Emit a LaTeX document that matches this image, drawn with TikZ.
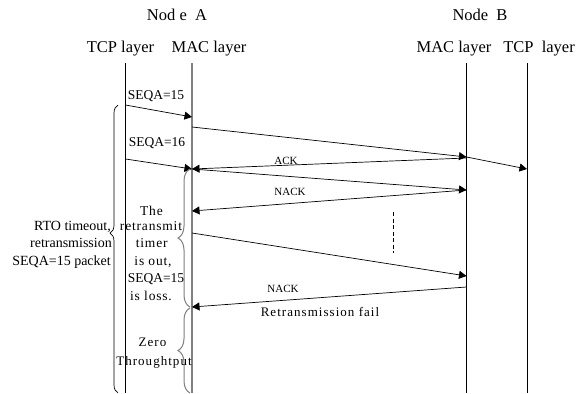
\documentclass[tikz,border=0pt]{standalone}
\usepackage{fontspec}
\setmainfont{Liberation Serif}
\usetikzlibrary{arrows.meta,decorations.pathreplacing}
\begin{document}
\begin{tikzpicture}[x=1pt,y=-1pt,
  lane/.style={line width=0.8pt},
  macA/.style={line width=1.5pt,draw=black!50},
  msg/.style={line width=0.7pt,-{Triangle[length=7.5pt,width=8pt]}},
  head/.style={font=\fontsize{16.5}{18}\selectfont, anchor=base, inner sep=0pt},
  lbl/.style={font=\fontsize{13.5}{16}\selectfont, anchor=base, inner sep=0pt},
  sp/.style={font=\fontsize{13.5}{16}\selectfont\addfontfeature{LetterSpace=6}, anchor=base, inner sep=0pt},
  wide/.style={font=\fontsize{13}{15}\selectfont\addfontfeature{LetterSpace=8}, anchor=base, inner sep=0pt},
  rto/.style={font=\fontsize{14}{16}\selectfont, anchor=base east, inner sep=0pt},
  small/.style={font=\fontsize{11}{13}\selectfont, anchor=base, inner sep=0pt},
  brc/.style n args={2}{decorate, decoration={brace, amplitude=#1, aspect=#2}, line width=0.7pt},
  gbrc/.style n args={2}{brc={#1}{#2}, draw=black!50, line width=1pt}
]
\useasboundingbox (0,0) rectangle (587,394);
\fill[white] (0,0) rectangle (587,394);

% headings
\node[head] (nA) at (177,20) {Nod e\ \ A};
\node[head] (nB) at (480,20) {Node\ \ B};
\node[head] (hTA) at (120.5,52.7) {TCP layer};
\node[head] (hMA) at (209,52.7) {MAC layer};
\node[head] (hMB) at (454,52.7) {MAC layer};
\node[head] (hTB) at (539,52.7) {TCP\ \ layer};

% lanes
\coordinate (tAt) at (125.5,63); \coordinate (tAb) at (125.5,393);
\coordinate (mAt) at (192,63);   \coordinate (mAb) at (192,393);
\coordinate (mBt) at (466.5,63); \coordinate (mBb) at (466.5,393);
\coordinate (tBt) at (527,63);   \coordinate (tBb) at (527,393);
\draw[lane] (tAt) -- (tAb);
\draw[macA] (mAt) -- (mAb);
\draw[lane] (mBt) -- (mBb);
\draw[lane] (tBt) -- (tBb);

% message end points
\coordinate (a1) at (125.5,105); \coordinate (b1) at (192,117);
\coordinate (a2) at (192,127);   \coordinate (b2) at (466.5,157);
\coordinate (a3) at (466.5,157); \coordinate (b3) at (527,169);
\coordinate (a4) at (125.5,159); \coordinate (b4) at (192,169);
\coordinate (a5) at (466.5,158); \coordinate (b5) at (192,169);
\coordinate (a6) at (192,169);   \coordinate (b6) at (466.5,190);
\coordinate (a7) at (466.5,190); \coordinate (b7) at (192,211);
\coordinate (a8) at (192,233);   \coordinate (b8) at (466.5,276);
\coordinate (a9) at (466.5,287); \coordinate (b9) at (192,307);

\draw[msg] (a1) -- (b1);
\draw[msg] (a2) -- (b2);
\draw[msg] (a3) -- (b3);
\draw[msg] (a4) -- (b4);
\draw[msg] (a5) -- (b5);
\draw[msg] (a6) -- (b6);
\draw[msg] (a7) -- (b7);
\draw[msg] (a8) -- (b8);
\draw[msg] (a9) -- (b9);

% dashed
\coordinate (d1) at (393,212); \coordinate (d2) at (393,253);
\draw[line width=0.7pt, dash pattern=on 4pt off 2.5pt] (d1) -- (d2);

% labels on messages
\node[lbl] (s15) at (156,99) {SEQA=15};
\node[lbl] (s16) at (157,146.7) {SEQA=16};
\node[small] (ack) at (286,164) {ACK};
\node[small] (nack1) at (290,195.7) {NACK};
\node[small] (nack2) at (283,292) {NACK};
\node[wide] (rf) at (320,316) {Retransmission fail};

% braces
\coordinate (bg1) at (118,393); \coordinate (bg2) at (118,105);
\draw[brc={8pt}{0.555}] (bg1) -- (bg2);
\coordinate (sb1) at (190,307); \coordinate (sb2) at (190,169);
\draw[gbrc={12pt}{0.5}] (sb1) -- (sb2);
\coordinate (sc1) at (190,393); \coordinate (sc2) at (190,308);
\draw[gbrc={12pt}{0.5}] (sc1) -- (sc2);

% RTO text
\node[rto] (r1) at (111,230) {RTO timeout,};
\node[rto] (r2) at (112,247) {retransmission};
\node[rto] (r3) at (111,265) {SEQA=15 packet};

% retransmit timer text
\node[sp] (t1) at (151.5,215) {The};
\node[sp] (t2) at (151,230) {retransmit};
\node[sp] (t3) at (151.7,247) {timer};
\node[sp] (t4) at (153,265) {is\ out,};
\node[lbl] (t5) at (156,282) {SEQA=15};
\node[sp] (t6) at (151,300) {is loss.};

% zero throughput
\node[wide] (z1) at (152.5,346.7) {Zero};
\node[wide] (z2) at (154,365) {Throughtput};
\end{tikzpicture}
\end{document}
